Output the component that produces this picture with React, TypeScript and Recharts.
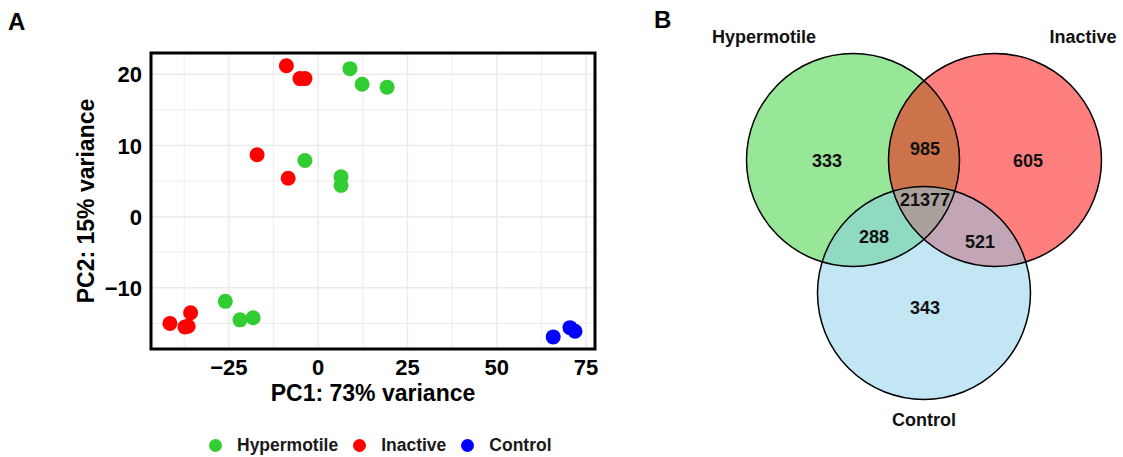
import React from "react";
import {
  ScatterChart,
  Scatter,
  XAxis,
  YAxis,
  CartesianGrid,
  ReferenceArea,
  ReferenceDot,
  Label,
} from "recharts";

const FONT = '"Liberation Sans", Arial, Helvetica, sans-serif';

// PCA scores (PC1, PC2) per sample, one pair of arrays per group
const hypermotilePC1 = [8.9, 12.3, 19.3, -3.7, 6.4, 6.4, -26.0, -21.9, -18.2];
const hypermotilePC2 = [20.8, 18.6, 18.2, 7.9, 5.6, 4.4, -11.9, -14.5, -14.2];
const inactivePC1 = [-8.9, -5.1, -3.7, -17.1, -8.4, -35.7, -41.5, -37.3, -36.4];
const inactivePC2 = [21.2, 19.4, 19.4, 8.7, 5.4, -13.5, -15.0, -15.5, -15.4];
const controlPC1 = [65.8, 70.5, 71.9];
const controlPC2 = [-16.9, -15.6, -16.1];

const groupNames = ["Hypermotile", "Inactive", "Control"];
const groupColors = ["#32CD32", "#FF0000", "#0000FF"];

const pc1Ticks = [-25, 0, 25, 50, 75];
const pc1Minor = [-37.5, -12.5, 12.5, 37.5, 62.5];
const pc2Ticks = [-10, 0, 10, 20];
const pc2Minor = [-15, -5, 5, 15];
const pc1Domain: [number, number] = [-46.8, 77.5];
const pc2Domain: [number, number] = [-18.6, 23.0];

// Venn: shared genes between groups
const vennSets = ["Hypermotile", "Inactive", "Control"];
const vennFills = ["#32CD32", "#FF0000", "#87CEEB"];
const vennRegions = ["H", "I", "H∩I", "H∩I∩C", "H∩C", "I∩C", "C"];
const vennCounts = [333, 605, 985, 21377, 288, 521, 343];

// venn geometry in panel pixel space
const VENN_W = 483;
const VENN_H = 457;
const VENN_R = 106.5;
const circlePos = [
  { x: 213, y: 160 },
  { x: 355, y: 160 },
  { x: 284, y: 293 },
];
const regionPos = [
  { x: 187, y: 160 },
  { x: 388, y: 160 },
  { x: 285, y: 148 },
  { x: 285, y: 199 },
  { x: 234, y: 236 },
  { x: 340, y: 241 },
  { x: 285, y: 307 },
];
const setLabelPos = [
  { x: 124, y: 36 },
  { x: 443, y: 36 },
  { x: 284, y: 419 },
];

// panel A plot box
const PLOT = { left: 151, top: 53, right: 595, bottom: 349 };
const PCA_W = 620;
const PCA_H = 457;

const toPoints = (xs: number[], ys: number[]) =>
  xs.map((pc1, i) => ({ pc1, pc2: ys[i] }));

const groups = [
  toPoints(hypermotilePC1, hypermotilePC2),
  toPoints(inactivePC1, inactivePC2),
  toPoints(controlPC1, controlPC2),
];

const minus = (v: number) => (v < 0 ? `\u2212${Math.abs(v)}` : `${v}`);

function XTick({ x, y, payload }: any) {
  return (
    <text x={x} y={y} dy={26} textAnchor="middle" fontFamily={FONT} fontWeight="bold" fontSize={22} fill="#000">
      {minus(payload.value)}
    </text>
  );
}

function YTick({ x, y, payload }: any) {
  return (
    <text x={x} y={y} dx={-9} dy={8} textAnchor="end" fontFamily={FONT} fontWeight="bold" fontSize={22} fill="#000">
      {minus(payload.value)}
    </text>
  );
}

function XTitle() {
  return (
    <text x={(PLOT.left + PLOT.right) / 2} y={401} textAnchor="middle" fontFamily={FONT} fontWeight="bold" fontSize={23} fill="#000">
      PC1: 73% variance
    </text>
  );
}

function YTitle() {
  const cy = (PLOT.top + PLOT.bottom) / 2;
  return (
    <text
      x={94}
      y={cy}
      transform={`rotate(-90 94 ${cy})`}
      textAnchor="middle"
      fontFamily={FONT}
      fontWeight="bold"
      fontSize={23}
      fill="#000"
    >
      PC2: 15% variance
    </text>
  );
}

function PcaPanel() {
  return (
    <div style={{ position: "absolute", left: 0, top: 0, width: PCA_W, height: PCA_H }}>
      <ScatterChart
        width={PCA_W}
        height={PCA_H}
        margin={{ top: PLOT.top, right: PCA_W - PLOT.right, bottom: PCA_H - PLOT.bottom - 60, left: PLOT.left - 70 }}
      >
        <CartesianGrid horizontalValues={pc2Minor} verticalValues={pc1Minor} stroke="#EBEBEB" strokeWidth={0.9} />
        <CartesianGrid horizontalValues={pc2Ticks} verticalValues={pc1Ticks} stroke="#EBEBEB" strokeWidth={1.5} />
        <XAxis
          type="number"
          dataKey="pc1"
          domain={pc1Domain}
          ticks={pc1Ticks}
          allowDataOverflow
          axisLine={false}
          tickLine={false}
          tickSize={0}
          tickMargin={0}
          height={60}
          tick={<XTick />}
        >
          <Label content={<XTitle />} />
        </XAxis>
        <YAxis
          type="number"
          dataKey="pc2"
          domain={pc2Domain}
          ticks={pc2Ticks}
          allowDataOverflow
          axisLine={false}
          tickLine={false}
          tickSize={0}
          tickMargin={0}
          width={70}
          tick={<YTick />}
        >
          <Label content={<YTitle />} />
        </YAxis>
        {groups.map((pts, gi) => (
          <Scatter
            key={groupNames[gi]}
            name={groupNames[gi]}
            data={pts}
            isAnimationActive={false}
            shape={(p: any) => <circle cx={p.cx} cy={p.cy} r={7.5} fill={groupColors[gi]} />}
          />
        ))}
        <ReferenceArea
          x1={pc1Domain[0]}
          x2={pc1Domain[1]}
          y1={pc2Domain[0]}
          y2={pc2Domain[1]}
          fill="none"
          fillOpacity={0}
          stroke="#000"
          strokeWidth={3}
          ifOverflow="visible"
        />
      </ScatterChart>
      <div
        style={{
          position: "absolute",
          left: 209,
          top: 435,
          display: "flex",
          alignItems: "center",
          fontFamily: FONT,
          fontWeight: "bold",
          fontSize: 17.5,
          color: "#1a1a1a",
          whiteSpace: "nowrap",
        }}
      >
        {groupNames.map((g, i) => (
          <span key={g} style={{ display: "flex", alignItems: "center", marginRight: 15 }}>
            <span
              style={{
                width: 13,
                height: 13,
                borderRadius: "50%",
                background: groupColors[i],
                display: "inline-block",
                marginRight: 15,
              }}
            />
            {g}
          </span>
        ))}
      </div>
      <div style={{ position: "absolute", left: 8, top: 8, fontFamily: FONT, fontWeight: "bold", fontSize: 24, lineHeight: "28px" }}>
        A
      </div>
    </div>
  );
}

function VennPanel() {
  const counts = vennCounts.map((n, i) => ({ x: regionPos[i].x, y: regionPos[i].y, n, region: vennRegions[i] }));
  const names = vennSets.map((s, i) => ({ x: setLabelPos[i].x, y: setLabelPos[i].y, s }));
  return (
    <div style={{ position: "absolute", left: 640, top: 0, width: VENN_W, height: VENN_H }}>
      <ScatterChart width={VENN_W} height={VENN_H} margin={{ top: 0, right: 0, bottom: 0, left: 0 }}>
        <XAxis type="number" dataKey="x" domain={[0, VENN_W]} hide />
        <YAxis type="number" dataKey="y" domain={[0, VENN_H]} reversed hide />
        {/* fills first, outlines on top so every edge stays black */}
        {circlePos.map((c, i) => (
          <ReferenceDot key={`f${i}`} x={c.x} y={c.y} r={VENN_R} fill={vennFills[i]} fillOpacity={0.5} stroke="none" />
        ))}
        {circlePos.map((c, i) => (
          <ReferenceDot key={`s${i}`} x={c.x} y={c.y} r={VENN_R} fill="none" stroke="#000" strokeWidth={1.5} />
        ))}
        <Scatter
          data={counts}
          isAnimationActive={false}
          shape={(p: any) => (
            <text x={p.cx} y={p.cy} dy={6.5} textAnchor="middle" fontFamily={FONT} fontWeight="bold" fontSize={18} fill="#111">
              {p.payload.n}
            </text>
          )}
        />
        <Scatter
          data={names}
          isAnimationActive={false}
          shape={(p: any) => (
            <text x={p.cx} y={p.cy} dy={6.5} textAnchor="middle" fontFamily={FONT} fontWeight="bold" fontSize={18} fill="#111">
              {p.payload.s}
            </text>
          )}
        />
      </ScatterChart>
      <div style={{ position: "absolute", left: 14, top: 6, fontFamily: FONT, fontWeight: "bold", fontSize: 24, lineHeight: "28px" }}>
        B
      </div>
    </div>
  );
}

export default function App() {
  return (
    <div style={{ position: "absolute", left: 0, top: 0, width: 1123, height: 457, background: "#fff", overflow: "hidden" }}>
      <PcaPanel />
      <VennPanel />
    </div>
  );
}
